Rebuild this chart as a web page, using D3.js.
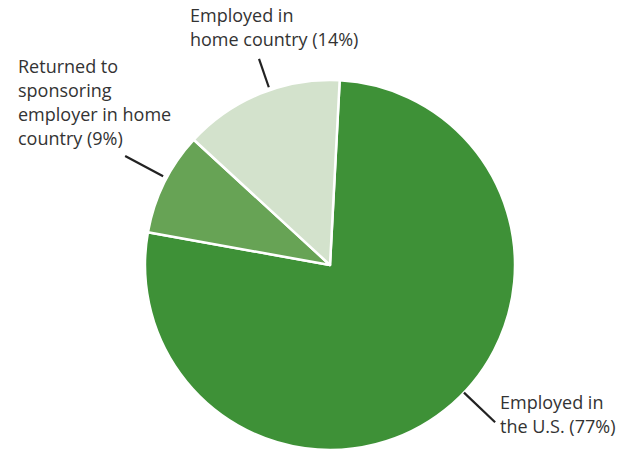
<!DOCTYPE html>
<html>
<head>
<meta charset="utf-8">
<script src="https://cdn.jsdelivr.net/npm/d3@7"></script>
<style>
  body { margin: 0; background: #fff; }
  text { font-family: "Open Sans", sans-serif; font-size: 18px; fill: #333; }
</style>
</head>
<body>
<script>
let width = 617,
    height = 450;

// data
let categories = ["Employed in the U.S.", "Returned to sponsoring employer in home country", "Employed in home country"];
let shares = [77, 9, 14];
let colorsList = ["#3e9137", "#67a355", "#d3e2cc"];
let labelLines = [
  ["Employed in", "the U.S. (77%)"],
  ["Returned to", "sponsoring", "employer in home", "country (9%)"],
  ["Employed in", "home country (14%)"]
];

let cx = 330, cy = 265, radius = 185;
let start = 3 * Math.PI / 180;

let svg = d3.select("body")
            .append("svg")
            .attr("width", width)
            .attr("height", height);

let pie = d3.pie().sort(null).startAngle(start).endAngle(start + 2 * Math.PI);
let arcs = pie(shares);

let arc = d3.arc().innerRadius(0).outerRadius(radius);

let g = svg.append("g").attr("transform", "translate(" + cx + "," + cy + ")");

g.selectAll("path")
  .data(arcs)
  .enter()
  .append("path")
  .attr("d", arc)
  .attr("fill", (d, i) => colorsList[i])
  .attr("stroke", "#fff")
  .attr("stroke-width", 2.5)
  .attr("stroke-linejoin", "round");

// leader lines: angle (deg), inner and outer radius
let leaders = [[133.6, 185, 228], [298, 189, 232], [341, 188, 218]];
g.selectAll("line")
  .data(leaders)
  .enter()
  .append("line")
  .attr("x1", d => d3.pointRadial(d[0] * Math.PI / 180, d[1])[0])
  .attr("y1", d => d3.pointRadial(d[0] * Math.PI / 180, d[1])[1])
  .attr("x2", d => d3.pointRadial(d[0] * Math.PI / 180, d[2])[0])
  .attr("y2", d => d3.pointRadial(d[0] * Math.PI / 180, d[2])[1])
  .attr("stroke", "#222")
  .attr("stroke-width", 2.2);

// label anchors (left edge, baseline of first line)
let labelPos = [[500, 409], [18, 73], [190, 22]];
let lineH = 24;

svg.selectAll("text.lbl")
  .data(labelLines)
  .enter()
  .append("text")
  .attr("class", "lbl")
  .attr("x", (d, i) => labelPos[i][0])
  .attr("y", (d, i) => labelPos[i][1])
  .each(function(d, i) {
    d3.select(this).selectAll("tspan")
      .data(d)
      .enter()
      .append("tspan")
      .attr("x", labelPos[i][0])
      .attr("dy", (t, j) => j === 0 ? 0 : lineH)
      .text(t => t);
  });
</script>
</body>
</html>
